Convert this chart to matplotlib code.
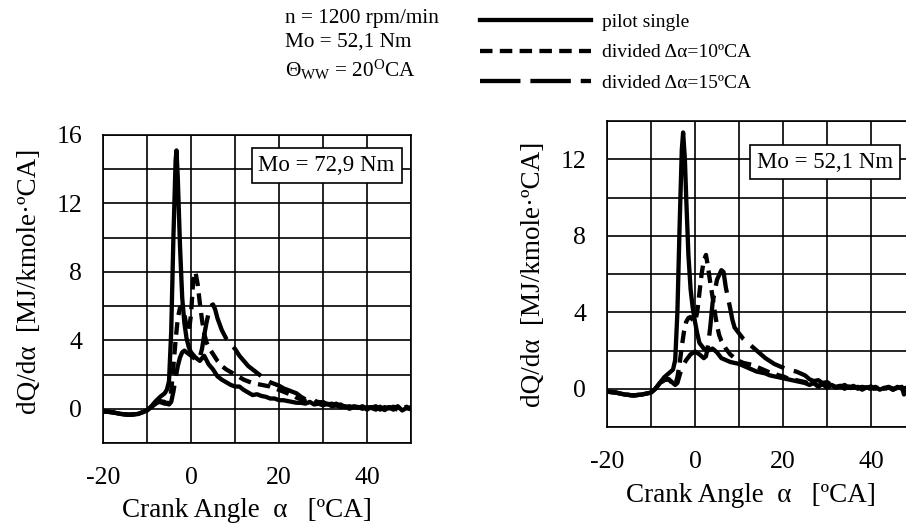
import matplotlib
matplotlib.use("Agg")
import matplotlib.pyplot as plt

plt.rcParams['font.family'] = ['Liberation Serif', 'DejaVu Serif']
plt.rcParams['mathtext.fontset'] = 'custom'
plt.rcParams['mathtext.rm'] = 'Liberation Serif'
plt.rcParams['mathtext.it'] = 'Liberation Serif:italic'
plt.rcParams['axes.unicode_minus'] = False

# heat release rate, Mo = 72,9 Nm
x_single_a = [-20, -18, -16, -14, -12, -10, -9, -8, -7, -6, -5.5, -5, -4.5, -4, -3.5, -3.3, -3,
              -2.5, -2, -1.5, -1, -0.5, 0, 1, 2, 3, 4, 5, 6, 7, 8, 9, 10, 11, 12, 13, 14, 15, 16,
              17, 18, 19, 20, 21, 22, 23, 24,
              25, 26, 27, 28, 29, 30, 31, 32, 33, 34, 35, 36, 37, 38, 39, 40, 41, 42, 43, 44, 45,
              46, 47, 48, 49, 50]
y_single_a = [-0.15, -0.2, -0.3, -0.35, -0.3, -0.1, 0.15, 0.45, 0.7, 0.9, 1.1, 1.6, 4.5, 10, 14.5, 15.1, 13.5,
              9.5, 6.5, 5.0, 4.1, 3.6, 3.3, 3.0, 2.8, 3.1, 2.6, 2.3, 1.9, 1.7, 1.55, 1.4, 1.3, 1.3, 1.1, 0.95, 0.8, 0.85, 0.75,
              0.7, 0.6, 0.6, 0.5, 0.5, 0.45, 0.4, 0.35,
              0.35, 0.3, 0.4, 0.25, 0.3, 0.2, 0.3, 0.15, 0.2, 0.1, 0.15, 0.0, 0.1, 0.05, 0.15, -0.05, 0.1, 0.0, 0.12, -0.08, 0.1,
              0.02, 0.15, -0.1, 0.05, 0.0]

x_div10_a = [-20, -18, -16, -14, -12, -10, -9, -8, -7, -6.5, -6, -5.5, -5, -4.5, -4, -3.5, -3, -2.5, -2,
             -1.5, -1, -0.5, 0, 0.5, 1, 1.5, 2, 2.5, 3, 3.5, 4, 5, 6, 7, 8, 9, 10, 11, 12, 13, 14, 15, 16,
             17, 18, 19, 20, 21, 22, 23, 24,
             25, 26, 27, 28, 29, 30, 31, 32, 33, 34, 35, 36, 37, 38, 39, 40, 41, 42, 43, 44, 45,
             46, 47, 48, 49, 50]
y_div10_a = [-0.15, -0.2, -0.3, -0.35, -0.3, -0.1, 0.1, 0.3, 0.4, 0.35, 0.3, 0.3, 0.35, 1.0, 2.5, 4.0, 5.3, 5.9, 6.0,
             5.5, 4.8, 4.5, 5.5, 7.5, 8.0, 7.3, 6.2, 5.2, 4.4, 3.9, 3.6, 3.2, 2.8, 2.5, 2.3, 2.15, 2.0, 1.85, 1.7, 1.6, 1.5, 1.45, 1.4,
             1.35, 1.3, 1.2, 1.1, 1.0, 0.9, 0.8, 0.65,
             0.55, 0.45, 0.5, 0.35, 0.4, 0.3, 0.35, 0.2, 0.3, 0.15, 0.2, 0.05, 0.15, 0.1, 0.0, 0.12, 0.05, -0.05, 0.1, 0.0, 0.08,
             -0.05, 0.1, 0.0, 0.12, -0.05]

x_div15_a = [-20, -18, -16, -14, -12, -10, -9, -8, -7, -6, -5.5, -5, -4.5, -4, -3.5, -3, -2.5, -2, -1.5,
             -1, -0.5, 0, 0.5, 1, 1.5, 2, 2.5, 3, 3.5, 4, 4.5, 5, 5.5, 6, 7, 8, 9, 10, 11, 12, 13, 14, 15,
             16, 17, 18, 19, 20, 21, 22, 23, 24,
             25, 26, 27, 28, 29, 30, 31, 32, 33, 34, 35, 36, 37, 38, 39, 40, 41, 42, 43, 44, 45,
             46, 47, 48, 49, 50]
y_div15_a = [-0.15, -0.2, -0.3, -0.35, -0.3, -0.1, 0.1, 0.3, 0.45, 0.4, 0.3, 0.25, 0.4, 1.0, 1.8, 2.5, 3.0, 3.3, 3.4,
             3.3, 3.2, 3.1, 3.0, 2.9, 2.8, 3.0, 3.5, 4.3, 5.0, 5.6, 6.0, 6.1, 5.8, 5.3, 4.6, 4.1, 3.8, 3.5, 3.1, 2.8, 2.5, 2.3, 2.1,
             1.9, 1.7, 1.55, 1.45, 1.35, 1.2, 1.1, 1.0, 0.9,
             0.7, 0.55, 0.45, 0.5, 0.35, 0.4, 0.25, 0.3, 0.2, 0.25, 0.1, 0.15, 0.05, 0.12, 0.0, 0.1, 0.05, 0.15, -0.05, 0.1, 0.02,
             0.12, -0.08, 0.08, 0.0, 0.1]

# heat release rate, Mo = 52,1 Nm
x_single_b = [-20, -18, -16, -14, -12, -10, -9, -8, -7, -6, -5, -4.5, -4, -3.5, -3, -2.7, -2.3, -2, -1.5,
              -1, -0.5, 0, 0.5, 1, 2, 3, 4, 5, 6, 7, 8, 9, 10, 11, 12, 13, 14, 15, 16, 17, 18, 19, 20,
              21, 22, 23, 24, 25,
              26, 27, 28, 29, 30, 31, 32, 33, 34, 35, 36, 37, 38, 39, 40, 41, 42, 43, 44, 45, 46,
              47, 47.5, 48, 49, 50]
y_single_b = [-0.15, -0.2, -0.3, -0.35, -0.3, -0.2, 0.0, 0.3, 0.6, 0.8, 1.0, 1.5, 4.0, 8.5, 12.5, 13.4, 12.0, 10.0, 7.0,
              5.2, 4.2, 3.5, 2.9, 2.4, 2.1, 2.0, 2.1, 1.9, 1.6, 1.5, 1.4, 1.35, 1.3, 1.2, 1.1, 1.0, 0.9, 0.85, 0.8, 0.7, 0.65, 0.6, 0.55,
              0.5, 0.45, 0.4, 0.35, 0.3,
              0.2, 0.3, 0.1, 0.25, 0.05, 0.2, 0.1, 0.15, 0.0, 0.12, 0.05, 0.1, -0.05, 0.08, 0.0, 0.1, -0.05, 0.05, 0.08, -0.05, 0.05,
              0.1, -0.3, -0.1, 0.0, 0.05]

x_div10_b = [-20, -18, -16, -14, -12, -10, -9, -8, -7, -6, -5, -4.5, -4, -3.5, -3, -2.5, -2, -1.5, -1,
             -0.5, 0, 0.5, 1, 1.5, 2, 2.5, 3, 3.5, 4, 4.5, 5, 5.5, 6, 7, 8, 9, 10, 11, 12, 13, 14, 15,
             16, 17, 18, 19, 20, 21, 22, 23, 24, 25,
             26, 27, 28, 29, 30, 31, 32, 33, 34, 35, 36, 37, 38, 39, 40, 41, 42, 43, 44, 45, 46,
             47, 48, 49, 50]
y_div10_b = [-0.15, -0.2, -0.3, -0.35, -0.3, -0.2, 0.0, 0.3, 0.45, 0.5, 0.25, 0.2, 0.6, 1.3, 2.2, 3.0, 3.5, 3.7, 3.75,
             3.6, 3.5, 4.0, 5.0, 6.0, 6.7, 7.0, 6.3, 5.5, 4.8, 4.0, 3.3, 2.8, 2.5, 2.1, 1.8, 1.6, 1.45, 1.35, 1.3, 1.25, 1.15, 1.05,
             0.95, 0.85, 0.8, 0.7, 0.65, 0.55, 0.5, 0.45, 0.4, 0.35,
             0.25, 0.3, 0.15, 0.25, 0.1, 0.2, 0.05, 0.15, 0.1, 0.0, 0.12, 0.05, 0.1, -0.05, 0.1, 0.0, 0.08, -0.05, 0.1, 0.0, 0.05,
             0.1, -0.15, 0.05, 0.0]

x_div15_b = [-20, -18, -16, -14, -12, -10, -9, -8, -7, -6, -5, -4.5, -4, -3.5, -3, -2, -1, 0, 1,
             2, 2.5, 3, 3.5, 4, 5, 6, 6.5, 7, 8, 8.5, 9, 10, 11, 12, 13, 14, 15, 16, 17, 18, 19, 20,
             21, 22, 23, 24, 25,
             26, 27, 28, 29, 30, 31, 32, 33, 34, 35, 36, 37, 38, 39, 40, 41, 42, 43, 44, 45, 46,
             47, 48, 49, 50]
y_div15_b = [-0.15, -0.2, -0.3, -0.35, -0.3, -0.2, 0.0, 0.3, 0.45, 0.5, 0.3, 0.2, 0.3, 0.7, 1.1, 1.5, 1.8, 1.95, 1.8,
             1.6, 1.7, 2.3, 3.3, 4.5, 5.7, 6.2, 6.1, 5.3, 4.2, 3.6, 3.2, 2.9, 2.6, 2.4, 2.2, 2.0, 1.8, 1.6, 1.45, 1.3, 1.2, 1.1,
             1.0, 0.95, 0.9, 0.8, 0.7,
             0.5, 0.4, 0.45, 0.3, 0.35, 0.2, 0.25, 0.1, 0.2, 0.05, 0.15, 0.0, 0.1, 0.05, 0.12, -0.05, 0.1, 0.0, 0.08, -0.05, 0.1,
             0.0, 0.05, -0.05, 0.0]

labels = ['pilot single', 'divided Δα=10ºCA', 'divided Δα=15ºCA']
dash10 = (2.9, 1.7)
dash15 = (9.4, 2.3)
lw = 3.1

fig = plt.figure(figsize=(9.06, 5.27), dpi=100)
ax1 = fig.add_axes([103 / 906, 1 - 443 / 527, 308 / 906, 308 / 527])
ax2 = fig.add_axes([607 / 906, 1 - 427 / 527, 308 / 906, 306 / 527])


def setup(ax, ymax, yticks, box_text, box_xy, xlab_y, ylab_y):
    ax.set_xlim(-20, 50)
    ax.set_ylim(-2, ymax)
    ax.set_xticks([-20, 0, 20, 40])
    ax.set_xticks(range(-20, 51, 10), minor=True)
    ax.set_yticks(yticks)
    ax.set_yticks(range(-2, ymax + 1, 2), minor=True)
    ax.grid(True, which='both', color='black', lw=1.2)
    ax.tick_params(which='both', length=0, labelsize=18.5)
    ax.tick_params(axis='x', pad=17)
    ax.tick_params(axis='y', pad=15)
    for s in ax.spines.values():
        s.set_linewidth(1.2)
    ax.set_axisbelow(True)
    ax.set_xlabel('Crank Angle  α   [ºCA]', fontsize=19.5)
    ax.set_ylabel('dQ/dα  [MJ/kmole·ºCA]', fontsize=19.5)
    ax.xaxis.set_label_coords(0.467, xlab_y)
    ax.yaxis.set_label_coords(-0.198, ylab_y)
    ax.text(box_xy[0], box_xy[1], box_text, transform=ax.transAxes, fontsize=16.5,
            ha='center', va='center', zorder=5,
            bbox=dict(boxstyle='square,pad=0.3', fc='white', ec='black', lw=1.2))


setup(ax1, 16, [0, 4, 8, 12, 16], 'Mo = 72,9 Nm', (0.726, 0.901), -0.178, 0.525)
setup(ax2, 14, [0, 4, 8, 12], 'Mo = 52,1 Nm', (0.708, 0.866), -0.182, 0.5)

l1, = ax1.plot(x_single_a, y_single_a, color='black', lw=lw)
l2, = ax1.plot(x_div10_a, y_div10_a, color='black', lw=lw, dashes=dash10)
l3, = ax1.plot(x_div15_a, y_div15_a, color='black', lw=lw, dashes=dash15)

ax2.plot(x_single_b, y_single_b, color='black', lw=lw)
ax2.plot(x_div10_b, y_div10_b, color='black', lw=lw, dashes=dash10)
ax2.plot(x_div15_b, y_div15_b, color='black', lw=lw, dashes=dash15)

# operating point and legend on top
fig.text(285 / 906, 1 - 18 / 527, 'n = 1200 rpm/min', fontsize=15.3, va='center')
fig.text(285 / 906, 1 - 42 / 527, 'Mo = 52,1 Nm', fontsize=15.3, va='center')
fig.text(285 / 906, 1 - 70 / 527, r'Θ$_{\rm WW}$ = 20$^{\rm O}$CA', fontsize=15.3, va='center')

fig.legend([l1, l2, l3], labels, loc='upper left', bbox_to_anchor=(480 / 906, 1 - 13 / 527),
           frameon=False, fontsize=14, borderpad=0, borderaxespad=0, handlelength=5.7,
           handletextpad=0.6, labelspacing=0.68)

fig.savefig('out.png', dpi=100)
